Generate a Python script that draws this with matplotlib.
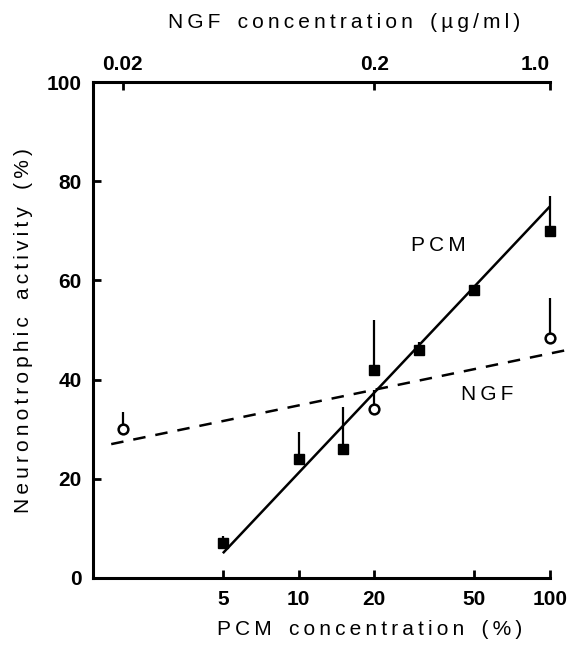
import numpy as np
import matplotlib
matplotlib.use('Agg')
import matplotlib.pyplot as plt
from matplotlib.ticker import NullLocator, FixedLocator, FixedFormatter

plt.rcParams['font.family'] = ['Liberation Sans', 'DejaVu Sans']

# PCM (filled squares), one-sided error bars
pcm_conc = [5, 10, 15, 20, 30, 50, 100]
pcm_act = [7, 24, 26, 42, 46, 58, 70]
pcm_err = [1.5, 5.5, 8.5, 10, 1.5, 0, 7]

# NGF (open circles), concentrations in ug/ml
ngf_conc = [0.02, 0.2, 1.0]
ngf_act = [30, 34, 48.5]
ngf_err = [3.5, 4, 8]

# fitted lines
pcm_fit_x = [5, 100]
pcm_fit_y = [5, 75]
ngf_fit_x = [0.018, 1.17]
ngf_fit_y = [27, 46]

bottom_ticks = [5, 10, 20, 50, 100]
top_ticks = [0.02, 0.2, 1.0]
top_labels = ['0.02', '0.2', '1.0']
y_ticks = [0, 20, 40, 60, 80, 100]


def spaced(words):
    # wide letter spacing like the typeset original
    return '   '.join('\u2009'.join(w) for w in words.split())


fig = plt.figure(figsize=(5.69, 6.52), dpi=100)
ax = fig.add_axes([0.163, 0.1135, 0.804, 0.7605])

ngf_x_pcm = [c * 100 for c in ngf_conc]
ngf_fit_pcm = [c * 100 for c in ngf_fit_x]

ax.plot(pcm_fit_x, pcm_fit_y, color='black', lw=1.8, solid_capstyle='butt')
ax.plot(ngf_fit_pcm, ngf_fit_y, color='black', lw=1.8, ls=(0, (5, 4)), clip_on=False)

ax.errorbar(pcm_conc, pcm_act, yerr=[np.zeros(len(pcm_err)), pcm_err], fmt='none',
            ecolor='black', elinewidth=1.6, capsize=0, clip_on=False)
ax.plot(pcm_conc, pcm_act, 's', color='black', ms=6.5, clip_on=False, zorder=4)

ax.errorbar(ngf_x_pcm, ngf_act, yerr=[np.zeros(len(ngf_err)), ngf_err], fmt='none',
            ecolor='black', elinewidth=1.6, capsize=0, clip_on=False)
ax.plot(ngf_x_pcm, ngf_act, 'o', mfc='white', mec='black', mew=1.8, ms=7, clip_on=False, zorder=4)

ax.set_xscale('log')
ax.set_xlim(1.52, 100)
ax.set_ylim(0, 100)

ax.xaxis.set_major_locator(FixedLocator(bottom_ticks))
ax.xaxis.set_major_formatter(FixedFormatter([str(t) for t in bottom_ticks]))
ax.xaxis.set_minor_locator(NullLocator())
ax.set_yticks(y_ticks)

for s in ['left', 'bottom', 'top']:
    ax.spines[s].set_linewidth(2.2)
ax.spines['right'].set_visible(False)
ax.tick_params(direction='in', length=6, width=2, labelsize=15, pad=9)
ax.tick_params(axis='y', pad=8)
for lab in ax.get_xticklabels() + ax.get_yticklabels():
    lab.set_fontweight('bold')

sec = ax.secondary_xaxis('top', functions=(lambda x: x / 100, lambda x: x * 100))
sec.xaxis.set_major_locator(FixedLocator(top_ticks))
sec.xaxis.set_major_formatter(FixedFormatter(top_labels))
sec.xaxis.set_minor_locator(NullLocator())
sec.tick_params(direction='in', length=6, width=2, labelsize=15, pad=6)
sec.spines['top'].set_visible(False)
top_lab = sec.get_xticklabels()
for lab in top_lab:
    lab.set_fontweight('bold')
top_lab[-1].set_horizontalalignment('right')

# top axis title, placed where the original has it
fig.text(0.605, 0.965, spaced('NGF concentration (\u00b5g/ml)'), fontsize=15,
         ha='center', va='center')

ax.set_xlabel(spaced('PCM concentration (%)'), fontsize=15, labelpad=8)
ax.xaxis.set_label_coords(0.606, -0.085)
ax.set_ylabel(spaced('Neuronotrophic activity (%)'), fontsize=15, labelpad=8)
ax.yaxis.set_label_coords(-0.13, 0.5)

ax.text(36, 67, spaced('PCM'), fontsize=15, ha='center', va='center')
ax.text(56, 37, spaced('NGF'), fontsize=15, ha='center', va='center')

fig.savefig('out.png', dpi=100)
